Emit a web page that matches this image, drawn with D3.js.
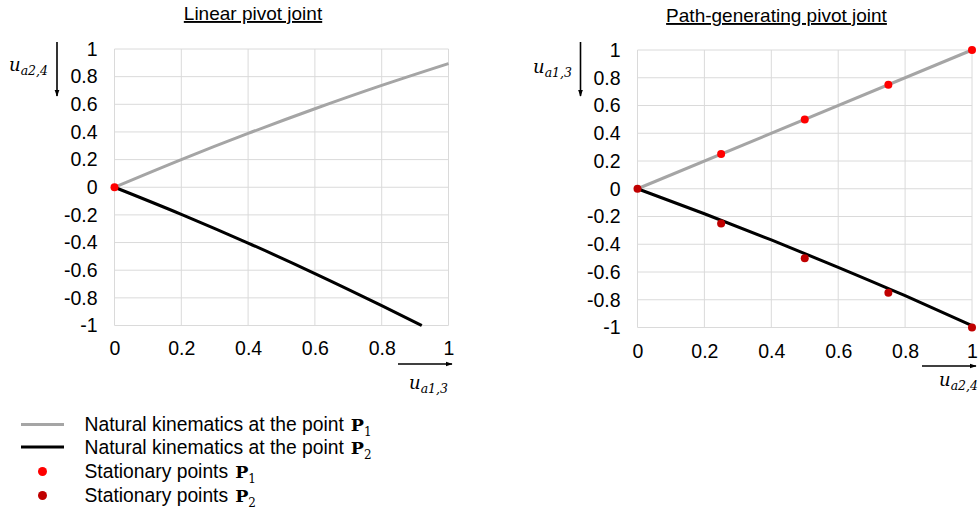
<!DOCTYPE html>
<html>
<head>
<meta charset="utf-8">
<script src="https://cdn.jsdelivr.net/npm/d3@7"></script>
<style>
  html, body { margin: 0; padding: 0; background: #fff; }
  svg { display: block; }
  text { font-family: "Liberation Sans", Arial, sans-serif; fill: #000; }
</style>
</head>
<body>
<svg id="chart" width="980" height="509"></svg>
<script>
// ---- data ----
const xTicks = [0, 0.2, 0.4, 0.6, 0.8, 1];
const yTicks = [1, 0.8, 0.6, 0.4, 0.2, 0, -0.2, -0.4, -0.6, -0.8, -1];

// Linear pivot joint: natural kinematics (x = u_a1,3, y = u_a2,4)
const linP1 = [[0, 0], [0.2, 0.2], [0.4, 0.389], [0.6, 0.568], [0.8, 0.737], [1, 0.895]];
const linP2 = [[0, 0], [0.2, -0.196], [0.4, -0.404], [0.6, -0.624], [0.8, -0.856], [0.92, -1]];
const linStatP1 = [[0, 0]];
const linStatP2 = [];

// Path-generating pivot joint (x = u_a2,4, y = u_a1,3)
const pathP1 = [[0, 0], [1, 1]];
const pathP2 = [[0, 0], [0.2, -0.180], [0.4, -0.369], [0.6, -0.566], [0.8, -0.771], [1, -0.986]];
const pathStatP1 = [[0.25, 0.25], [0.5, 0.5], [0.75, 0.75], [1, 1]];
const pathStatP2 = [[0, 0], [0.25, -0.25], [0.5, -0.5], [0.75, -0.75], [1, -1]];

const legendItems = [
  { kind: "line", color: "#a5a5a5", text: "Natural kinematics at the point", sub: "1" },
  { kind: "line", color: "#000000", text: "Natural kinematics at the point", sub: "2" },
  { kind: "dot", color: "#ff0000", text: "Stationary points", sub: "1" },
  { kind: "dot", color: "#c00000", text: "Stationary points", sub: "2" }
];

const C_P1 = "#a5a5a5", C_P2 = "#000000", C_S1 = "#ff0000", C_S2 = "#c00000";

const svg = d3.select("#chart");

const defs = svg.append("defs");
defs.append("marker")
  .attr("id", "arrow").attr("viewBox", "0 0 10 10")
  .attr("refX", 9).attr("refY", 5)
  .attr("markerWidth", 7).attr("markerHeight", 7)
  .attr("markerUnits", "userSpaceOnUse")
  .attr("orient", "auto")
  .append("path").attr("d", "M0,1.5 L10,5 L0,8.5 Z").attr("fill", "#000");

function mathLabel(g, x, y, base, sub, anchor) {
  const t = g.append("text")
    .attr("x", x).attr("y", y)
    .attr("text-anchor", anchor || "start")
    .style("font-family", "'DejaVu Serif', serif")
    .style("font-style", "italic");
  t.append("tspan").attr("font-size", 18).text(base);
  t.append("tspan").attr("font-size", 12.5).attr("dy", 4).text(sub);
  return t;
}

function panel(cfg) {
  const g = svg.append("g");
  const x = d3.scaleLinear().domain([0, 1]).range([cfg.x0, cfg.x1]);
  const y = d3.scaleLinear().domain([-1, 1]).range([cfg.y1, cfg.y0]);

  // grid
  const grid = g.append("g").attr("stroke", "#dadada").attr("stroke-width", 1).attr("fill", "none");
  xTicks.forEach(v => grid.append("line")
    .attr("x1", x(v)).attr("x2", x(v)).attr("y1", y(1)).attr("y2", y(-1)));
  yTicks.forEach(v => grid.append("line")
    .attr("x1", x(0)).attr("x2", x(1)).attr("y1", y(v)).attr("y2", y(v)));

  // axes (tick labels only), plain hyphen for negatives
  const fmt = d => String(d);
  const yAxis = g.append("g").attr("transform", `translate(${x(0) - 17},0)`)
    .call(d3.axisLeft(y).tickValues(yTicks).tickSize(0).tickPadding(0).tickFormat(fmt));
  const xAxis = g.append("g").attr("transform", `translate(0,${cfg.xLabelY})`)
    .call(d3.axisBottom(x).tickValues(xTicks).tickSize(0).tickPadding(0).tickFormat(fmt));
  [yAxis, xAxis].forEach(a => {
    a.select(".domain").remove();
    a.selectAll("text").attr("font-size", 19.5).style("font-family", "'Liberation Sans', Arial, sans-serif").attr("fill", "#000");
  });
  xAxis.selectAll("text").attr("dy", "0.35em").attr("y", 0);

  // title
  g.append("text")
    .attr("x", cfg.titleX).attr("y", cfg.titleY)
    .attr("text-anchor", "middle")
    .attr("font-size", 19)
    .style("text-decoration", "underline")
    .text(cfg.title);

  // curves
  const clipId = "clip" + cfg.id;
  g.append("clipPath").attr("id", clipId).append("rect")
    .attr("x", x(0) - 2).attr("y", y(1) - 2)
    .attr("width", x(1) - x(0) + 4).attr("height", y(-1) - y(1) + 4);
  const line = d3.line().curve(d3.curveMonotoneX).x(d => x(d[0])).y(d => y(d[1]));
  const curves = g.append("g").attr("clip-path", `url(#${clipId})`);
  curves.append("path").datum(cfg.p1).attr("d", line)
    .attr("fill", "none").attr("stroke", C_P1).attr("stroke-width", 3);
  curves.append("path").datum(cfg.p2).attr("d", line)
    .attr("fill", "none").attr("stroke", C_P2).attr("stroke-width", 3);

  g.append("g").selectAll("circle").data(cfg.s1).join("circle")
    .attr("cx", d => x(d[0])).attr("cy", d => y(d[1])).attr("r", 4).attr("fill", C_S1);
  g.append("g").selectAll("circle").data(cfg.s2).join("circle")
    .attr("cx", d => x(d[0])).attr("cy", d => y(d[1])).attr("r", 4).attr("fill", C_S2);

  // axis arrows and variable labels
  g.append("line")
    .attr("x1", cfg.vArrowX).attr("x2", cfg.vArrowX)
    .attr("y1", 42).attr("y2", 96)
    .attr("stroke", "#000").attr("stroke-width", 1.6)
    .attr("marker-end", "url(#arrow)");
  mathLabel(g, cfg.vLabelX, cfg.vLabelY, "u", cfg.yVar, "end");

  g.append("line")
    .attr("x1", cfg.hArrowX0).attr("x2", cfg.hArrowX1)
    .attr("y1", cfg.hArrowY).attr("y2", cfg.hArrowY)
    .attr("stroke", "#000").attr("stroke-width", 1.6)
    .attr("marker-end", "url(#arrow)");
  mathLabel(g, cfg.hLabelX, cfg.hLabelY, "u", cfg.xVar, "end");
}

panel({
  id: "L", title: "Linear pivot joint", titleX: 253, titleY: 20,
  x0: 114.5, x1: 448.5, y0: 49, y1: 325.5, xLabelY: 348.5,
  p1: linP1, p2: linP2, s1: linStatP1, s2: linStatP2,
  yVar: "a2,4", xVar: "a1,3",
  vArrowX: 57, vLabelX: 48, vLabelY: 71,
  hArrowX0: 398, hArrowX1: 452, hArrowY: 364, hLabelX: 448, hLabelY: 389
});

panel({
  id: "R", title: "Path-generating pivot joint", titleX: 776.5, titleY: 22,
  x0: 637.5, x1: 972, y0: 50, y1: 327.5, xLabelY: 351.5,
  p1: pathP1, p2: pathP2, s1: pathStatP1, s2: pathStatP2,
  yVar: "a1,3", xVar: "a2,4",
  vArrowX: 580.5, vLabelX: 572, vLabelY: 73,
  hArrowX0: 922, hArrowX1: 976, hArrowY: 366, hLabelX: 978, hLabelY: 386
});

// legend
const lg = svg.append("g");
const rowY = [424.5, 447, 471.5, 495.5];
legendItems.forEach((it, i) => {
  const yy = rowY[i];
  if (it.kind === "line") {
    lg.append("line").attr("x1", 21).attr("x2", 64).attr("y1", yy).attr("y2", yy)
      .attr("stroke", it.color).attr("stroke-width", 3);
  } else {
    lg.append("circle").attr("cx", 42.5).attr("cy", yy).attr("r", 4.5).attr("fill", it.color);
  }
  const t = lg.append("text").attr("x", 84.5).attr("y", yy).attr("dy", "0.35em").attr("font-size", 19.3);
  t.append("tspan").text(it.text);
  t.append("tspan").attr("dx", 7).style("font-family", "'DejaVu Serif', serif").attr("font-weight", "bold")
    .attr("font-size", 17.5).text("P");
  t.append("tspan").style("font-family", "'DejaVu Serif', serif")
    .attr("font-size", 12).attr("dy", 5).text(it.sub);
});
</script>
</body>
</html>
